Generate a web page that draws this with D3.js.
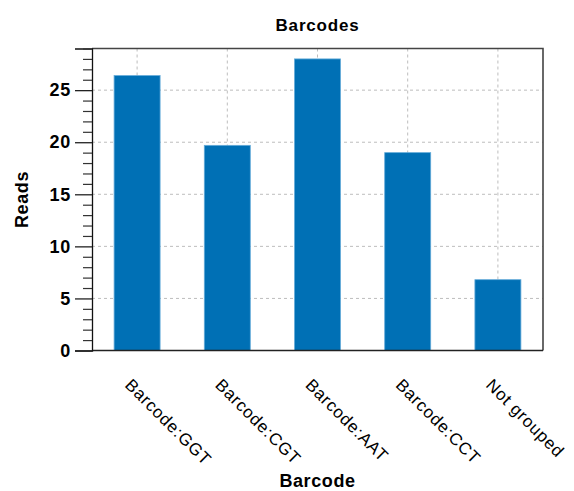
<!DOCTYPE html>
<html>
<head>
<meta charset="utf-8">
<script src="https://cdn.jsdelivr.net/npm/d3@7"></script>
<style>
  body { margin: 0; background: #fff; }
  text { font-family: "Liberation Sans", Arial, sans-serif; fill: #000; }
</style>
</head>
<body>
<div id="chart"></div>
<script>
// data
const categories = ['Barcode:GGT', 'Barcode:CGT', 'Barcode:AAT', 'Barcode:CCT', 'Not grouped'];
const reads = [26.4, 19.7, 28.0, 19.0, 6.8];
const majorTicks = [0, 5, 10, 15, 20, 25];
const yMax = 29;

const width = 574, height = 491;
const plotLeft = 92, plotRight = 543, plotTop = 48.5, plotBottom = 350.5;

const svg = d3.select('#chart')
    .append('svg')
    .attr('width', width)
    .attr('height', height);

const xScale = d3.scaleBand()
    .domain(categories)
    .range([plotLeft, plotRight])
    .paddingInner(0.49)
    .paddingOuter(0.245);

const yScale = d3.scaleLinear()
    .domain([0, yMax])
    .range([plotBottom, plotTop]);

const center = c => xScale(c) + xScale.bandwidth() / 2;

// grid
const grid = svg.append('g')
    .attr('stroke', '#bdbdbd')
    .attr('stroke-width', 1)
    .attr('stroke-dasharray', '3,3');

grid.selectAll('line.h')
    .data(majorTicks.filter(d => d > 0))
    .join('line')
    .attr('class', 'h')
    .attr('x1', plotLeft).attr('x2', plotRight)
    .attr('y1', d => yScale(d)).attr('y2', d => yScale(d));

grid.selectAll('line.v')
    .data(categories)
    .join('line')
    .attr('class', 'v')
    .attr('x1', d => center(d)).attr('x2', d => center(d))
    .attr('y1', plotTop).attr('y2', plotBottom);

// bars
svg.append('g')
    .selectAll('rect')
    .data(categories.map((c, i) => ({ c, v: reads[i] })))
    .join('rect')
    .attr('x', d => xScale(d.c))
    .attr('width', xScale.bandwidth())
    .attr('y', d => yScale(d.v))
    .attr('height', d => yScale(0) - yScale(d.v))
    .attr('fill', '#0070b5')
    .attr('stroke', '#64abd9')
    .attr('stroke-width', 0.8);

// frame
svg.append('path')
    .attr('d', `M${plotLeft},${plotTop}H${plotRight}V${plotBottom}`)
    .attr('fill', 'none')
    .attr('stroke', '#444')
    .attr('stroke-width', 1.6);

svg.append('line')
    .attr('x1', plotLeft).attr('x2', plotRight)
    .attr('y1', plotBottom).attr('y2', plotBottom)
    .attr('stroke', '#222').attr('stroke-width', 1.3);

// y axis: major ticks with labels, minor ticks every 1
const yAxis = d3.axisLeft(yScale)
    .tickValues(majorTicks)
    .tickSize(17)
    .tickPadding(4)
    .tickFormat(d3.format('d'));

const ay = svg.append('g')
    .attr('transform', `translate(${plotLeft},0)`)
    .call(yAxis);
ay.select('.domain').attr('stroke', '#111').attr('stroke-width', 1.3);
ay.selectAll('.tick line').attr('stroke', '#222').attr('stroke-width', 1.3);
ay.selectAll('.tick text')
    .style('font-size', '18px')
    .style('font-weight', 'bold')
    .style('letter-spacing', '0.8px')
    .attr('fill', '#000');

const minorAxis = d3.axisLeft(yScale)
    .tickValues(d3.range(0, yMax + 1).filter(d => d % 5 !== 0))
    .tickSize(9)
    .tickFormat('');
const am = svg.append('g')
    .attr('transform', `translate(${plotLeft},0)`)
    .call(minorAxis);
am.select('.domain').remove();
am.selectAll('.tick line').attr('stroke', '#333').attr('stroke-width', 1.2);

// rotated category labels
svg.append('g')
    .selectAll('text')
    .data(categories)
    .join('text')
    .attr('transform', d => `translate(${center(d) - 13},386) rotate(45)`)
    .attr('text-anchor', 'start')
    .style('font-size', '17px')
    .style('letter-spacing', '0.8px')
    .text(d => d);

// titles
svg.append('text')
    .attr('x', (plotLeft + plotRight) / 2)
    .attr('y', 31)
    .attr('text-anchor', 'middle')
    .style('font-size', '17px')
    .style('font-weight', 'bold')
    .style('letter-spacing', '0.8px')
    .text('Barcodes');

svg.append('text')
    .attr('x', (plotLeft + plotRight) / 2)
    .attr('y', 487)
    .attr('text-anchor', 'middle')
    .style('font-size', '18px')
    .style('font-weight', 'bold')
    .style('letter-spacing', '0.6px')
    .text('Barcode');

svg.append('text')
    .attr('transform', `translate(28,${(plotTop + plotBottom) / 2}) rotate(-90)`)
    .attr('text-anchor', 'middle')
    .style('font-size', '18px')
    .style('font-weight', 'bold')
    .style('letter-spacing', '0.6px')
    .text('Reads');
</script>
</body>
</html>
